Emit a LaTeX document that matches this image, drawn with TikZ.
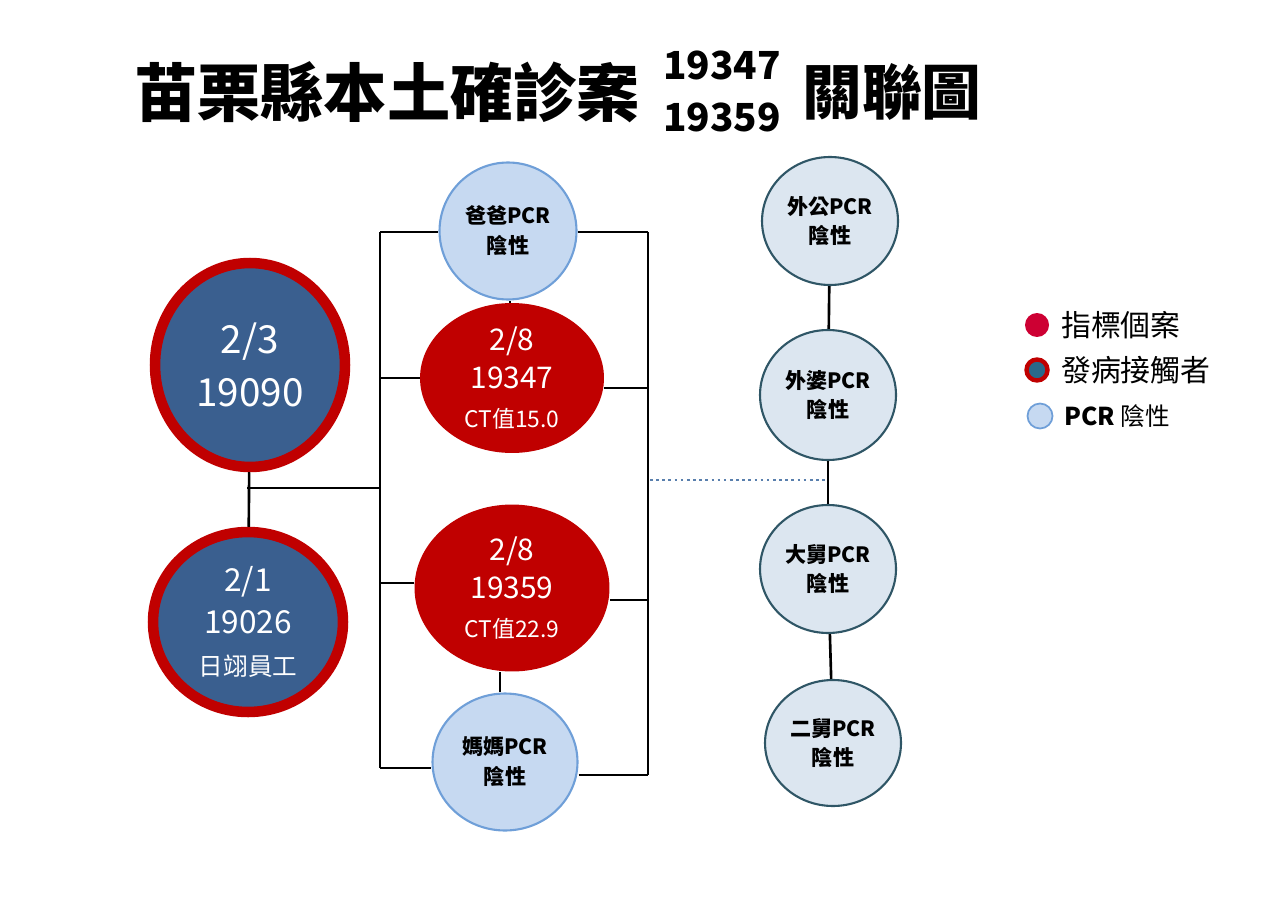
\documentclass[tikz,border=0pt]{standalone}
\usepackage{fontspec}
\setmainfont{Noto Sans CJK TC}
\usetikzlibrary{shapes.geometric}
\definecolor{casered}{HTML}{C00000}
\definecolor{caseblue}{HTML}{3A5F8F}
\definecolor{negfill}{HTML}{C6D9F1}
\definecolor{negline}{HTML}{6F9FD8}
\definecolor{relfill}{HTML}{DCE6F0}
\definecolor{relline}{HTML}{2F5666}
\tikzset{
  contact/.style={ellipse,fill=caseblue,draw=casered,line width=6pt,text=white,align=center,inner sep=0pt},
  index/.style={ellipse,fill=casered,text=white,align=center,inner sep=0pt},
  neg/.style={ellipse,fill=negfill,draw=negline,line width=1.2pt,align=center,inner sep=0pt,font=\fontsize{12}{17}\selectfont\bfseries},
  rel/.style={ellipse,fill=relfill,draw=relline,line width=1.2pt,align=center,inner sep=0pt,font=\fontsize{12}{17}\selectfont\bfseries},
  link/.style={line width=1.5pt}
}
\begin{document}
\begin{tikzpicture}[x=0.02cm,y=-0.02cm]
\useasboundingbox (0,0) rectangle (1280,905);
% title
\node[font=\fontsize{36}{38}\selectfont\bfseries,anchor=west] (title) at (128,92) {苗栗縣本土確診案};
\node[font=\fontsize{22}{24}\selectfont\bfseries] (t1) at (722,65) {19347};
\node[font=\fontsize{22}{24}\selectfont\bfseries] (t2) at (722,117) {19359};
\node[font=\fontsize{34}{36}\selectfont\bfseries] (t3) at (892,92) {關聯圖};
% contacts
\node[contact,minimum width=3.8cm,minimum height=4.08cm,font=\fontsize{22}{30}\selectfont] (c19090) at (250,365) {2/3\\19090};
\node[contact,minimum width=3.8cm,minimum height=3.6cm,font=\fontsize{18}{24}\selectfont] (c19026) at (248,622) {2/1\\19026\\{\fontsize{14}{20}\selectfont 日翊員工}};
% family
\node[neg,minimum width=2.74cm,minimum height=2.74cm] (dad) at (508,231) {爸爸PCR\\陰性};
\node[index,minimum width=3.68cm,minimum height=3cm,font=\fontsize{17}{22}\selectfont] (c19347) at (512,378) {2/8\\19347\\{\fontsize{13}{18}\selectfont CT值15.0}};
\node[index,minimum width=3.9cm,minimum height=3.34cm,font=\fontsize{17}{22}\selectfont] (c19359) at (512,588) {2/8\\19359\\{\fontsize{13}{18}\selectfont CT值22.9}};
\node[neg,minimum width=2.9cm,minimum height=2.74cm] (mom) at (505,762) {媽媽PCR\\陰性};
% relatives
\node[rel,minimum width=2.72cm,minimum height=2.56cm] (gpa) at (830,221) {外公PCR\\陰性};
\node[rel,minimum width=2.72cm,minimum height=2.6cm] (gma) at (828,395) {外婆PCR\\陰性};
\node[rel,minimum width=2.72cm,minimum height=2.56cm] (uncA) at (828,569) {大舅PCR\\陰性};
\node[rel,minimum width=2.72cm,minimum height=2.52cm] (uncB) at (833,743) {二舅PCR\\陰性};
% brackets
\coordinate (lt) at (380,232); \coordinate (lb) at (380,768);
\coordinate (rt) at (648,232); \coordinate (rb) at (648,775);
\coordinate (mid) at (247,488); \coordinate (midr) at (380,488);
\draw[link] (lt) -- (lb);
\draw[link] (rt) -- (rb);
\draw[link] (lt) -- (dad.west |- lt);
\draw[link] (380,378) -- (c19347.west);
\draw[link] (380,583) -- (c19359.west |- 0,583);
\draw[link] (lb) -- (mom.west |- lb);
\draw[link] (dad.east |- rt) -- (rt);
\draw[link] (c19347.east |- 0,388) -- (648,388);
\draw[link] (c19359.east |- 0,600) -- (648,600);
\draw[link] (mom.east |- rb) -- (rb);
\draw[link] (c19090) -- (c19026);
\draw[link] (mid) -- (midr);
\draw[link] (dad.south -| 510,0) -- (c19347.north -| 510,0);
\draw[link] (c19359.south -| 500,0) -- (mom.north -| 500,0);
\draw[link] (gpa) -- (gma);
\draw[link] (gma) -- (uncA);
\draw[link] (uncA) -- (uncB);
\coordinate (dot) at (650,480);
\draw[negline!80!black,line width=1.5pt,dotted] (dot) -- (828,480);
% legend
\node[circle,fill=casered!80!magenta,minimum size=0.48cm,inner sep=0pt] (lg1) at (1037,325) {};
\node[anchor=west,font=\fontsize{17}{20}\selectfont] at (1055,325) {指標個案};
\node[circle,fill=caseblue!70!teal,draw=casered,line width=2.5pt,minimum size=0.42cm,inner sep=0pt] (lg2) at (1037,370) {};
\node[anchor=west,font=\fontsize{17}{20}\selectfont] at (1055,370) {發病接觸者};
\node[circle,fill=negfill,draw=negline,line width=1pt,minimum size=0.5cm,inner sep=0pt] (lg3) at (1040,416) {};
\node[anchor=west,font=\fontsize{14}{18}\selectfont] at (1058,416) {\textbf{PCR} 陰性};
\end{tikzpicture}
\end{document}
